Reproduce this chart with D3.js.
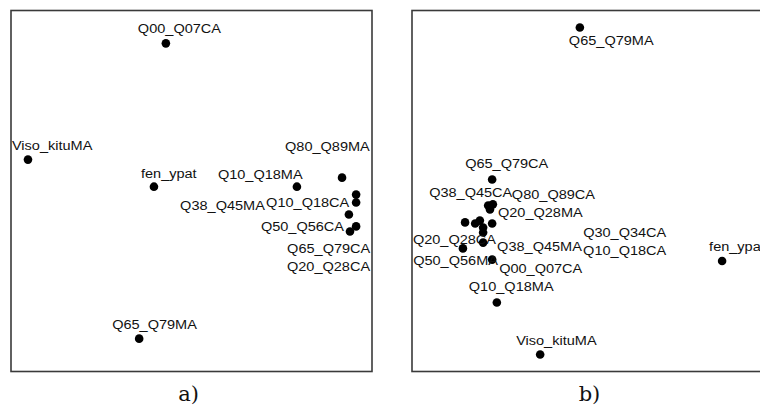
<!DOCTYPE html>
<html>
<head>
<meta charset="utf-8">
<script src="https://cdn.jsdelivr.net/npm/d3@7"></script>
<style>
  html, body { margin: 0; padding: 0; background: #fff; }
  svg { display: block; }
</style>
</head>
<body>
<svg id="chart" width="760" height="407"></svg>
<script>
// ---- Data: panel a) ----
const namesA = ["Q00_Q07CA", "Viso_kituMA", "fen_ypat", "Q10_Q18MA", "Q80_Q89MA",
                "Q10_Q18CA", "Q38_Q45MA", "Q50_Q56CA", "Q65_Q79CA", "Q20_Q28CA", "Q65_Q79MA"];
const xA = [42.9, 4.7, 39.6, 79.2, 91.7, 95.6, 95.6, 93.6, 95.6, 93.9, 35.5];
const yA = [90.9, 58.7, 51.2, 51.2, 53.7, 49.0, 46.8, 43.5, 40.2, 38.8, 9.1];

// ---- Data: panel b) ----
const namesB = ["Q65_Q79MA", "Q65_Q79CA", "Q38_Q45CA", "Q80_Q89CA", "Q20_Q28MA",
                "Q30_Q34CA", "Q10_Q18CA", "Q20_Q28CA", "Q38_Q45MA", "Q50_Q56MA",
                "Q00_Q07CA", "Q10_Q18MA", "Viso_kituMA", "fen_ypat",
                "Q30_Q34MA", "Q50_Q56CA", "Q80_Q89MA"];
const xB = [46.5, 22.2, 21.1, 22.4, 21.6, 22.2, 19.7, 14.1, 19.7, 17.5, 22.2, 23.5, 35.5, 85.9, 14.7, 18.8, 19.7];
const yB = [95.3, 53.2, 46.0, 46.3, 44.9, 41.0, 39.9, 34.1, 35.7, 41.0, 31.0, 19.1, 4.7, 30.6, 41.3, 41.8, 38.5];

const captions = ["a)", "b)"];

// ---- Layout (label placement relative to each dot, px: left edge, baseline) ----
const labelOffsetA = [[-28,-10],[-16,-10],[-13,-9],[-79,-8],[-57,-26.5],
                      [-90,12],[-176,7],[-88,17],[-69,26.5],[-63,40],[-27,-10]];
const labelOffsetB = [[-11,18],[-27,-11],[-59,-8],[19,-5],[8,8],
                      [91,14],[100,28],[-50,-4],[14,8],[-62,42],
                      [7,13],[-28,-12],[-24,-10],[-13,-10.5],
                      null, null, null];

const svg = d3.select("#chart");
svg.append("rect").attr("width", 760).attr("height", 407).attr("fill", "#fff");

const panels = [
  { left: 11, names: namesA, xs: xA, ys: yA, offs: labelOffsetA, caption: captions[0] },
  { left: 412, names: namesB, xs: xB, ys: yB, offs: labelOffsetB, caption: captions[1] }
];
const frameTop = 10.5, frameSize = 361;
const stretch = 1.21;

panels.forEach(p => {
  const x = d3.scaleLinear().domain([0, 100]).range([p.left, p.left + frameSize]);
  const y = d3.scaleLinear().domain([0, 100]).range([frameTop + frameSize, frameTop]);
  const g = svg.append("g");

  g.append("rect")
    .attr("x", p.left).attr("y", frameTop)
    .attr("width", frameSize).attr("height", frameSize)
    .attr("fill", "none").attr("stroke", "#3a3a3a").attr("stroke-width", 1.6);

  const data = p.names.map((n, i) => ({ name: n, x: p.xs[i], y: p.ys[i], off: p.offs[i] }));

  g.selectAll("circle").data(data).enter().append("circle")
    .attr("cx", d => x(d.x)).attr("cy", d => y(d.y))
    .attr("r", 4.3).attr("fill", "#000");

  g.selectAll("text.lbl").data(data.filter(d => d.off)).enter().append("text")
    .attr("class", "lbl")
    .attr("x", d => x(d.x) + d.off[0])
    .attr("y", d => y(d.y) + d.off[1])
    .attr("font-family", "'Liberation Sans', Arial, sans-serif")
    .attr("font-size", 12)
    .attr("fill", "#111")
    .text(d => d.name)
    .each(function() {
      const w = this.getComputedTextLength();
      d3.select(this).attr("textLength", w * stretch).attr("lengthAdjust", "spacingAndGlyphs");
    });

  svg.append("text")
    .attr("x", p.left + frameSize / 2 - 3)
    .attr("y", 401)
    .attr("text-anchor", "middle")
    .attr("font-family", "'DejaVu Serif', serif")
    .attr("font-size", 21)
    .attr("fill", "#111")
    .text(p.caption);
});
</script>
</body>
</html>
